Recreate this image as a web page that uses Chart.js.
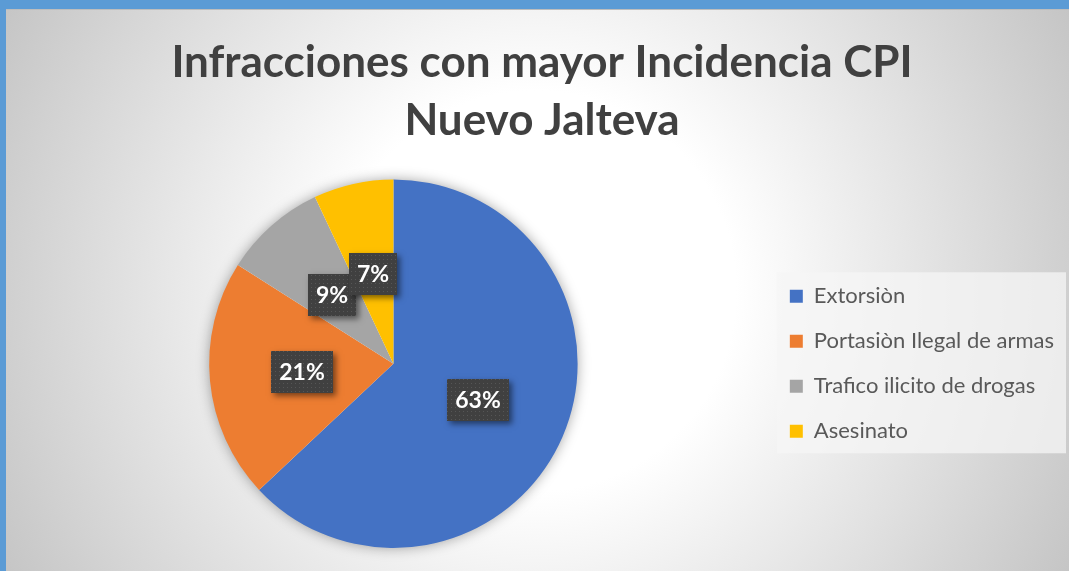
<!DOCTYPE html>
<html>
<head>
<meta charset="utf-8">
<script src="https://cdn.jsdelivr.net/npm/chart.js@4"></script>
<style>
  html, body { margin: 0; padding: 0; }
  body { width: 1069px; height: 571px; overflow: hidden; background: #5b9bd5; position: relative; }
  #frame {
    position: absolute; left: 6px; top: 9px; width: 1078px; height: 562px;
    border-top: 1px solid #bdbdbd;
    background: radial-gradient(circle 610px at 530px 281px, #ffffff 200px, #c4c4c4 610px);
  }
  canvas { display: block; }
</style>
</head>
<body>
<div id="frame"><canvas id="pieChart" width="1078" height="561"></canvas></div>
<script>
const chartTitle = ['Infracciones con mayor Incidencia CPI', 'Nuevo Jalteva'];
const categories = ['Extorsiòn', 'Portasiòn Ilegal de armas', 'Trafico ilicito de drogas', 'Asesinato'];
const percentages = [63, 21, 9, 7];
const sliceColors = ['#4472c4', '#ed7d31', '#a5a5a5', '#ffc000'];

// dotted fill for the label boxes
const patCanvas = document.createElement('canvas');
patCanvas.width = 4; patCanvas.height = 4;
const pctx = patCanvas.getContext('2d');
pctx.fillStyle = '#404040';
pctx.fillRect(0, 0, 4, 4);
pctx.fillStyle = '#565656';
pctx.fillRect(1, 1, 1, 1);

// soft shadow behind the whole pie
const pieShadow = {
    id: 'pieShadow',
    beforeDatasetsDraw(chart) {
        const arc = chart.getDatasetMeta(0).data[0];
        if (!arc) return;
        const ctx = chart.ctx;
        ctx.save();
        ctx.shadowColor = 'rgba(0,0,0,0.4)';
        ctx.shadowBlur = 14;
        ctx.fillStyle = '#ffffff';
        ctx.beginPath();
        ctx.arc(arc.x, arc.y, arc.outerRadius - 1, 0, Math.PI * 2);
        ctx.fill();
        ctx.restore();
    }
};

// light panel behind the legend
const legendPanel = {
    id: 'legendPanel',
    beforeDraw(chart) {
        const lg = chart.legend;
        if (!lg || !lg.legendHitBoxes || !lg.legendHitBoxes.length) return;
        const boxes = lg.legendHitBoxes;
        const first = boxes[0];
        const last = boxes[boxes.length - 1];
        const right = Math.max(...boxes.map(b => b.left + b.width));
        const ctx = chart.ctx;
        ctx.save();
        ctx.fillStyle = 'rgba(246,246,246,0.75)';
        ctx.fillRect(first.left - 13, first.top - 13, right + 12 - (first.left - 13), last.top + last.height + 11 - (first.top - 13));
        ctx.restore();
    }
};

// percentage labels in dark boxes
const pctLabels = {
    id: 'pctLabels',
    afterDatasetsDraw(chart) {
        const ctx = chart.ctx;
        const meta = chart.getDatasetMeta(0);
        ctx.save();
        ctx.font = 'bold 23px Lato';
        const pattern = ctx.createPattern(patCanvas, 'repeat');
        meta.data.forEach((arc, i) => {
            const p = arc.getCenterPoint();
            const text = percentages[i] + '%';
            const w = Math.round(ctx.measureText(text).width + 16);
            const h = 42;
            const x = Math.round(p.x - w / 2);
            const y = Math.round(p.y - h / 2);
            ctx.shadowColor = 'rgba(0,0,0,0.5)';
            ctx.shadowBlur = 6;
            ctx.shadowOffsetX = 3;
            ctx.shadowOffsetY = 3;
            ctx.fillStyle = '#404040';
            ctx.fillRect(x, y, w, h);
            ctx.shadowColor = 'transparent';
            ctx.fillStyle = pattern;
            ctx.fillRect(x, y, w, h);
            ctx.fillStyle = '#ffffff';
            ctx.textAlign = 'center';
            ctx.textBaseline = 'middle';
            ctx.fillText(text, x + w / 2, y + h / 2 + 1);
        });
        ctx.restore();
    }
};

const ctx = document.getElementById('pieChart').getContext('2d');
new Chart(ctx, {
    type: 'pie',
    data: {
        labels: categories,
        datasets: [{
            data: percentages,
            backgroundColor: sliceColors,
            borderWidth: 0
        }]
    },
    plugins: [pieShadow, legendPanel, pctLabels],
    options: {
        responsive: false,
        animation: false,
        devicePixelRatio: 1,
        layout: {
            padding: { left: 14, right: 20, bottom: 23 }
        },
        plugins: {
            title: {
                display: true,
                text: chartTitle,
                color: '#404040',
                font: { family: 'Lato', size: 44, weight: 'bold', lineHeight: 1.336 },
                padding: { top: 23, bottom: 29 }
            },
            legend: {
                position: 'right',
                fullSize: false,
                labels: {
                    boxWidth: 13,
                    boxHeight: 13,
                    padding: 23,
                    color: '#595959',
                    font: { family: 'Lato', size: 22 }
                }
            },
            tooltip: { enabled: false }
        }
    }
});
</script>
</body>
</html>
